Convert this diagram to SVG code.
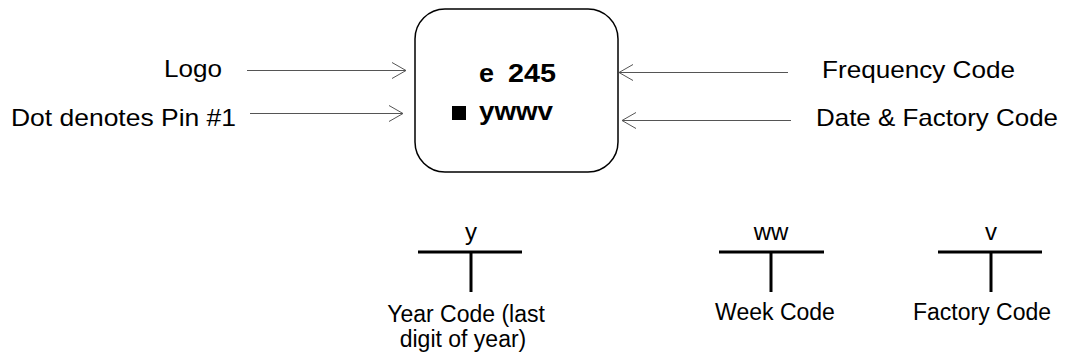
<svg xmlns="http://www.w3.org/2000/svg" width="1065" height="359" viewBox="0 0 1065 359">
<style>
.lbl{font-family:"Liberation Sans",Arial,sans-serif;font-size:24px;fill:#000}
.sm{font-family:"Liberation Sans",Arial,sans-serif;font-size:23px;fill:#000}
.bold{font-family:"Liberation Sans",Arial,sans-serif;font-size:26px;font-weight:bold;fill:#000}
.conn{stroke:#555;stroke-width:1;fill:none}
.t{stroke:#000;stroke-width:3;fill:none}
</style>
<defs>
<marker id="open" viewBox="0 0 16 18" refX="15" refY="9" markerWidth="16" markerHeight="18" markerUnits="userSpaceOnUse" orient="auto">
<path d="M1,1 L15,9 L1,17" fill="none" stroke="#555" stroke-width="1"/>
</marker>
</defs>
<rect width="1065" height="359" fill="#fff"/>
<g id="chip">
<rect x="415" y="9" width="203" height="163" rx="30" ry="30" fill="#fff" stroke="#000" stroke-width="1.5"/>
<text class="bold" x="479" y="82" textLength="15" lengthAdjust="spacingAndGlyphs">e</text>
<text class="bold" x="508" y="82" textLength="48" lengthAdjust="spacingAndGlyphs">245</text>
<rect x="452" y="106" width="14" height="14" fill="#000"/>
<text class="bold" x="479" y="120" textLength="74" lengthAdjust="spacingAndGlyphs">ywwv</text>
</g>
<g id="connectors">
<line class="conn" x1="247" y1="70.5" x2="406" y2="70.5" marker-end="url(#open)"/>
<line class="conn" x1="250" y1="113.5" x2="403" y2="113.5" marker-end="url(#open)"/>
<line class="conn" x1="788" y1="72.5" x2="619" y2="72.5" marker-end="url(#open)"/>
<line class="conn" x1="791" y1="120.5" x2="622" y2="120.5" marker-end="url(#open)"/>
</g>
<g id="label-logo"><text class="lbl" x="164" y="77" textLength="58" lengthAdjust="spacingAndGlyphs">Logo</text></g>
<g id="label-dot"><text class="lbl" x="11" y="126" textLength="225" lengthAdjust="spacingAndGlyphs">Dot denotes Pin #1</text></g>
<g id="label-freq"><text class="lbl" x="822" y="78" textLength="193" lengthAdjust="spacingAndGlyphs">Frequency Code</text></g>
<g id="label-date"><text class="lbl" x="816" y="126" textLength="242" lengthAdjust="spacingAndGlyphs">Date &amp; Factory Code</text></g>
<g id="year">
<line class="t" x1="418" y1="252" x2="522" y2="252"/>
<line class="t" x1="471" y1="252" x2="471" y2="292"/>
<text class="lbl" x="471" y="240" text-anchor="middle">y</text>
<text class="sm" x="466" y="322" text-anchor="middle">Year Code (last</text>
<text class="sm" x="463" y="347" text-anchor="middle">digit of year)</text>
</g>
<g id="week">
<line class="t" x1="719" y1="252" x2="824" y2="252"/>
<line class="t" x1="771" y1="252" x2="771" y2="292"/>
<text class="lbl" x="771" y="240" text-anchor="middle">ww</text>
<text class="sm" x="775" y="320" text-anchor="middle">Week Code</text>
</g>
<g id="factory">
<line class="t" x1="938" y1="252" x2="1042" y2="252"/>
<line class="t" x1="991" y1="252" x2="991" y2="292"/>
<text class="lbl" x="991" y="240" text-anchor="middle">v</text>
<text class="sm" x="982" y="320" text-anchor="middle">Factory Code</text>
</g>
</svg>
